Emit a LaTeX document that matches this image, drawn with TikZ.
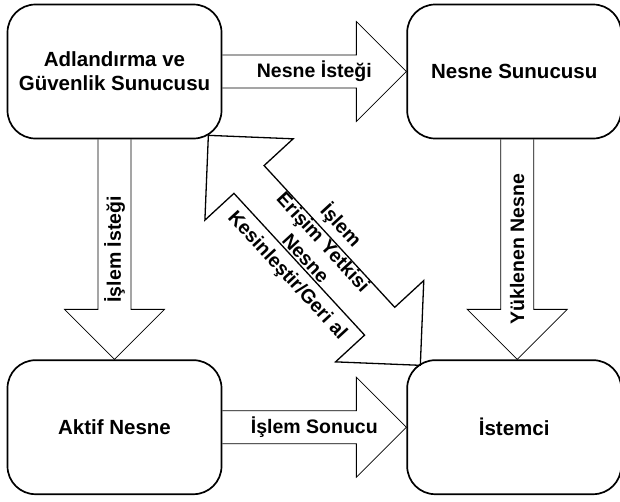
\documentclass[tikz,border=0pt]{standalone}
\usepackage{fontspec}
\setmainfont{Liberation Sans}
\usetikzlibrary{positioning,calc}

\tikzset{
  box/.style={draw, line width=1.7pt, rounded corners=28pt, minimum width=214pt,
    minimum height=134pt, align=center, font=\bfseries\fontsize{20.5}{24}\selectfont},
  lbl/.style={align=center, inner sep=0pt, font=\bfseries\fontsize{19.5}{24}\selectfont},
  blockarrow/.style={draw, line width=0.8pt, to path={
    let \p1=(\tikztostart), \p2=(\tikztotarget),
        \n1={atan2(\y2-\y1,\x2-\x1)}, \n2={veclen(\x2-\x1,\y2-\y1)}
    in {[shift={(\p1)}, rotate=\n1]
      (0pt,16.5pt) -- ({\n2-50pt},16.5pt) -- ({\n2-50pt},50pt) -- (\n2,0pt)
      -- ({\n2-50pt},-50pt) -- ({\n2-50pt},-16.5pt) -- (0pt,-16.5pt)}}},
  doublearrow/.style={draw, line width=1.3pt, to path={
    let \p1=(\tikztostart), \p2=(\tikztotarget),
        \n1={atan2(\y2-\y1,\x2-\x1)}, \n2={veclen(\x2-\x1,\y2-\y1)}
    in {[shift={(\p1)}, rotate=\n1]
      (0pt,0pt) -- (60pt,60pt) -- (60pt,20.5pt) -- ({\n2-60pt},20.5pt) -- ({\n2-60pt},60pt)
      -- (\n2,0pt) -- ({\n2-60pt},-60pt) -- ({\n2-60pt},-20.5pt) -- (60pt,-20.5pt)
      -- (60pt,-60pt) -- cycle}}}
}

\begin{document}
\begin{tikzpicture}[x=1pt, y=1pt, node distance=220pt and 184pt]
  \useasboundingbox (0,0) rectangle (620,-501);

  \node[box] (ags) at (114.5,-71.5) {Adlandırma ve\\Güvenlik Sunucusu};
  \node[box] (ns)  [right=of ags]   {Nesne Sunucusu};
  \node[box] (an)  [below=of ags]   {Aktif Nesne};
  \node[box] (ic)  [below=of ns]    {İstemci};

  \coordinate (d1) at ([shift={(-14pt,4pt)}]ags.south east);
  \coordinate (d2) at ([shift={(14pt,-6pt)}]ic.north west);
  \coordinate (y1) at ([xshift=3pt]ns.south);
  \coordinate (y2) at ([xshift=3pt]ic.north);

  \draw[blockarrow] (ags.east) to (ns.west);
  \draw[blockarrow] (ags.south) to (an.north);
  \draw[blockarrow] (y1) to (y2);
  \draw[blockarrow] (an.east) to (ic.west);
  \draw[doublearrow] (d1) to (d2);

  \path (ags.east) -- node[lbl] (nsreq) {Nesne İsteği} (ns.west);
  \path (an.north) -- node[lbl, rotate=90] (opreq) {İşlem İsteği} (ags.south);
  \path (y2) -- node[lbl, rotate=90] (loaded) {Yüklenen Nesne} (y1);
  \path (an.east) -- node[lbl] (opres) {İşlem Sonucu} (ic.west);
  \path (d1) -- node[lbl, sloped] (access) {İşlem\\Erişim Yetkisi\\Nesne\\Kesinleştir/Geri al} (d2);
\end{tikzpicture}
\end{document}
